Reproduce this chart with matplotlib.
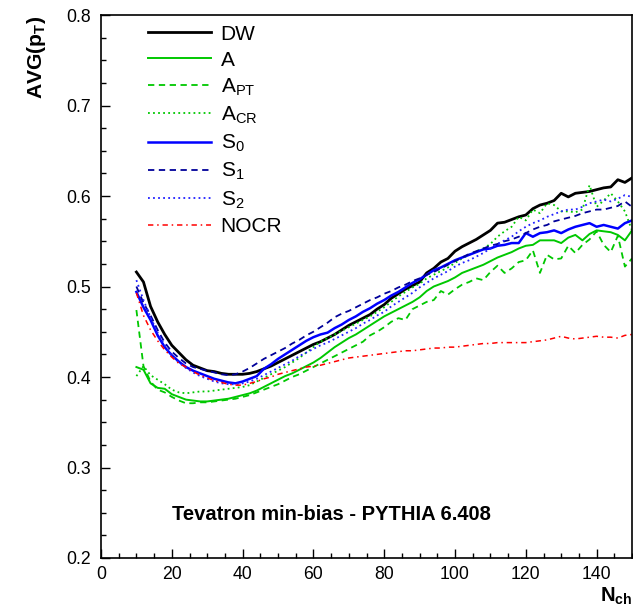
import matplotlib
matplotlib.use("Agg")
import matplotlib.pyplot as plt
from matplotlib.ticker import MultipleLocator, FormatStrFormatter

plt.rcParams['font.family'] = ['Liberation Sans', 'DejaVu Sans']
plt.rcParams['mathtext.fontset'] = 'custom'
plt.rcParams['mathtext.rm'] = 'Liberation Sans'
plt.rcParams['mathtext.it'] = 'Liberation Sans'
plt.rcParams['mathtext.bf'] = 'Liberation Sans:bold'

nch = list(range(10, 151, 2))

dw = [0.516, 0.505, 0.478, 0.461, 0.447, 0.435, 0.427, 0.419, 0.413, 0.410,
      0.407, 0.406, 0.404, 0.403, 0.403, 0.403, 0.404, 0.406, 0.409, 0.412,
      0.416, 0.420, 0.424, 0.428, 0.432, 0.436, 0.439, 0.443, 0.447, 0.452,
      0.457, 0.461, 0.465, 0.469, 0.475, 0.480, 0.487, 0.492, 0.497, 0.501,
      0.505, 0.515, 0.520, 0.527, 0.531, 0.539, 0.544, 0.548, 0.552, 0.557,
      0.562, 0.570, 0.571, 0.574, 0.577, 0.579, 0.586, 0.590, 0.592, 0.595,
      0.603, 0.599, 0.603, 0.604, 0.605, 0.607, 0.609, 0.610, 0.618, 0.615,
      0.620]

tune_a = [0.411, 0.408, 0.393, 0.388, 0.387, 0.381, 0.378, 0.375, 0.374, 0.373,
          0.373, 0.374, 0.375, 0.376, 0.378, 0.380, 0.382, 0.385, 0.389, 0.393,
          0.397, 0.401, 0.404, 0.408, 0.412, 0.416, 0.421, 0.427, 0.433, 0.438,
          0.443, 0.447, 0.452, 0.457, 0.462, 0.467, 0.471, 0.475, 0.479, 0.483,
          0.488, 0.495, 0.500, 0.503, 0.506, 0.510, 0.515, 0.518, 0.521, 0.524,
          0.528, 0.532, 0.535, 0.538, 0.542, 0.545, 0.546, 0.551, 0.551, 0.551,
          0.548, 0.554, 0.557, 0.551, 0.558, 0.562, 0.561, 0.560, 0.557, 0.551,
          0.562]

tune_apt = [0.474, 0.412, 0.395, 0.386, 0.383, 0.378, 0.374, 0.371, 0.371, 0.372,
            0.372, 0.373, 0.374, 0.375, 0.376, 0.378, 0.380, 0.383, 0.386, 0.389,
            0.392, 0.396, 0.400, 0.403, 0.407, 0.411, 0.415, 0.419, 0.423, 0.427,
            0.431, 0.435, 0.439, 0.446, 0.450, 0.455, 0.461, 0.465, 0.463, 0.475,
            0.479, 0.483, 0.485, 0.495, 0.491, 0.497, 0.502, 0.505, 0.509, 0.507,
            0.516, 0.523, 0.515, 0.520, 0.527, 0.529, 0.540, 0.515, 0.535, 0.530,
            0.531, 0.545, 0.537, 0.546, 0.552, 0.561, 0.546, 0.538, 0.556, 0.522,
            0.531]

tune_acr = [0.401, 0.412, 0.402, 0.397, 0.392, 0.386, 0.383, 0.382, 0.383, 0.384,
            0.384, 0.385, 0.386, 0.387, 0.388, 0.389, 0.391, 0.395, 0.399, 0.403,
            0.407, 0.411, 0.416, 0.421, 0.427, 0.433, 0.439, 0.443, 0.447, 0.451,
            0.455, 0.459, 0.463, 0.467, 0.472, 0.477, 0.483, 0.489, 0.494, 0.499,
            0.503, 0.509, 0.513, 0.517, 0.521, 0.526, 0.531, 0.535, 0.539, 0.542,
            0.547, 0.555, 0.561, 0.566, 0.577, 0.573, 0.585, 0.581, 0.592, 0.590,
            0.583, 0.583, 0.582, 0.585, 0.612, 0.588, 0.595, 0.603, 0.594, 0.583,
            0.562]

tune_s0 = [0.494, 0.477, 0.463, 0.446, 0.433, 0.424, 0.417, 0.411, 0.407, 0.404,
           0.401, 0.398, 0.396, 0.394, 0.393, 0.395, 0.398, 0.401, 0.409, 0.414,
           0.420, 0.425, 0.430, 0.435, 0.440, 0.444, 0.447, 0.449, 0.454, 0.458,
           0.463, 0.467, 0.472, 0.476, 0.481, 0.485, 0.490, 0.494, 0.499, 0.504,
           0.508, 0.513, 0.518, 0.521, 0.525, 0.529, 0.532, 0.535, 0.538, 0.541,
           0.542, 0.545, 0.546, 0.548, 0.548, 0.559, 0.555, 0.559, 0.560, 0.562,
           0.559, 0.563, 0.566, 0.568, 0.570, 0.566, 0.568, 0.566, 0.564, 0.570,
           0.573]

tune_s1 = [0.500, 0.482, 0.468, 0.452, 0.438, 0.428, 0.421, 0.415, 0.411, 0.409,
           0.407, 0.405, 0.403, 0.402, 0.403, 0.406, 0.410, 0.415, 0.420, 0.424,
           0.428, 0.432, 0.437, 0.441, 0.446, 0.450, 0.455, 0.460, 0.466, 0.470,
           0.473, 0.477, 0.481, 0.485, 0.488, 0.492, 0.495, 0.499, 0.502, 0.506,
           0.509, 0.513, 0.516, 0.520, 0.524, 0.528, 0.532, 0.536, 0.539, 0.542,
           0.545, 0.547, 0.550, 0.552, 0.555, 0.559, 0.563, 0.566, 0.568, 0.572,
           0.574, 0.576, 0.578, 0.581, 0.583, 0.585, 0.585, 0.587, 0.589, 0.594,
           0.588]

tune_s2 = [0.507, 0.485, 0.466, 0.449, 0.435, 0.424, 0.416, 0.410, 0.405, 0.401,
           0.398, 0.395, 0.393, 0.392, 0.392, 0.393, 0.395, 0.398, 0.402, 0.406,
           0.410, 0.414, 0.418, 0.423, 0.427, 0.431, 0.435, 0.438, 0.442, 0.446,
           0.450, 0.454, 0.459, 0.463, 0.468, 0.472, 0.478, 0.483, 0.488, 0.493,
           0.499, 0.504, 0.509, 0.513, 0.517, 0.522, 0.526, 0.529, 0.533, 0.537,
           0.542, 0.547, 0.551, 0.555, 0.561, 0.566, 0.570, 0.573, 0.577, 0.580,
           0.583, 0.585, 0.585, 0.588, 0.592, 0.594, 0.596, 0.594, 0.597, 0.601,
           0.599]

tune_nocr = [0.493, 0.468, 0.452, 0.440, 0.430, 0.422, 0.415, 0.411, 0.406, 0.402,
             0.399, 0.396, 0.394, 0.392, 0.391, 0.391, 0.393, 0.395, 0.398, 0.400,
             0.403, 0.405, 0.407, 0.409, 0.411, 0.412, 0.413, 0.415, 0.417, 0.419,
             0.421, 0.422, 0.423, 0.424, 0.425, 0.426, 0.427, 0.428, 0.429, 0.429,
             0.430, 0.431, 0.432, 0.432, 0.433, 0.433, 0.434, 0.435, 0.436, 0.437,
             0.437, 0.438, 0.438, 0.438, 0.438, 0.438, 0.439, 0.440, 0.441, 0.443,
             0.445, 0.443, 0.442, 0.443, 0.444, 0.445, 0.444, 0.444, 0.443, 0.446,
             0.447]

labels = ['DW', 'A', r'A$_{\mathrm{PT}}$', r'A$_{\mathrm{CR}}$',
          r'S$_{\mathrm{0}}$', r'S$_{\mathrm{1}}$', r'S$_{\mathrm{2}}$', 'NOCR']
series = [dw, tune_a, tune_apt, tune_acr, tune_s0, tune_s1, tune_s2, tune_nocr]

green = '#00c800'
styles = [
    dict(color='black', lw=2.0, ls='-'),
    dict(color=green, lw=1.4, ls='-'),
    dict(color=green, lw=1.3, ls=(0, (3.5, 2.5))),
    dict(color=green, lw=1.3, ls=(0, (1.0, 1.8))),
    dict(color='#0000ff', lw=1.8, ls='-'),
    dict(color='#00009a', lw=1.3, ls=(0, (3.5, 2.5))),
    dict(color='#2020ff', lw=1.3, ls=(0, (1.0, 1.8))),
    dict(color='#ff0000', lw=1.1, ls=(0, (3.5, 2.5, 1.0, 2.5))),
]

fig = plt.figure(figsize=(6.33, 6.09), dpi=100)
ax = fig.add_axes([101/633, 1 - 558/609, 531/633, 543/609])

for y, lab, st in zip(series, labels, styles):
    ax.plot(nch, y, label=lab, **st)

ax.set_xlim(0, 150)
ax.set_ylim(0.2, 0.8)
ax.xaxis.set_major_locator(MultipleLocator(20))
ax.xaxis.set_minor_locator(MultipleLocator(5))
ax.yaxis.set_major_locator(MultipleLocator(0.1))
ax.yaxis.set_minor_locator(MultipleLocator(0.025))
ax.yaxis.set_major_formatter(FormatStrFormatter('%.1f'))
ax.tick_params(which='both', direction='in', top=False, right=False,
               labelsize=12.7, width=1.0)
ax.tick_params(which='major', length=6.5, pad=6)
ax.tick_params(which='minor', length=3.5)
ax.tick_params(axis='y', pad=7)
for sp in ax.spines.values():
    sp.set_linewidth(1.2)

leg = ax.legend(loc='upper left', bbox_to_anchor=(0.088, 0.982), frameon=False,
                fontsize=15, handlelength=3.05, handletextpad=0.45,
                labelspacing=0.33, borderaxespad=0.0, borderpad=0.0)

ax.text(20.0, 0.2 + (558 - 514) / 905, 'Tevatron min-bias - PYTHIA 6.408',
        fontsize=14.5, fontweight='bold', ha='left', va='center')

fig.text(36/633, 1 - 16/609, r'AVG(p$_{\mathbf{T}}$)', rotation=90,
         ha='center', va='top', fontsize=15.2, fontweight='bold')
fig.text(600/633, 1 - 586/609, r'N$_{\mathbf{ch}}$', ha='left', va='top',
         fontsize=14.5, fontweight='bold')

fig.savefig('out.png', dpi=100)
